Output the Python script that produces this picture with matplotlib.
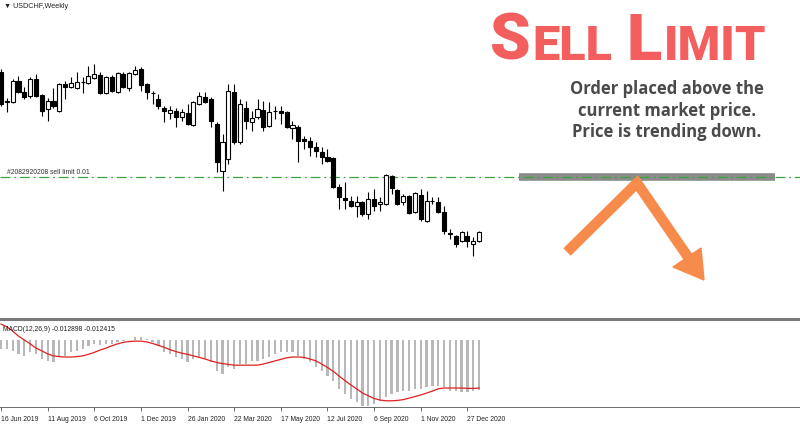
import matplotlib
matplotlib.use('Agg')

import matplotlib.pyplot as plt
from matplotlib.lines import Line2D
from matplotlib.patches import Polygon
import pandas as pd


# weekly USDCHF candles, starting 16 Jun 2019
start_date = "2019-06-16"

opens = [1.0007, 0.9801, 0.9801, 0.9946, 0.9870, 0.9843, 0.9959, 0.9849, 0.9753, 0.9808,
         0.9740, 0.9925, 0.9904, 0.9898, 0.9939, 0.9932, 0.9966, 0.9987, 0.9863, 0.9973,
         0.9870, 0.9994, 0.9898, 0.9994, 1.0028, 0.9925, 0.9863, 0.9822, 0.9760, 0.9726,
         0.9740, 0.9698, 0.9726, 0.9643, 0.9788, 0.9836, 0.9822, 0.9650, 0.9327, 0.9410,
         0.9870, 0.9527, 0.9760, 0.9664, 0.9698, 0.9746, 0.9637, 0.9740, 0.9740, 0.9733,
         0.9623, 0.9630, 0.9547, 0.9533, 0.9492, 0.9458, 0.9424, 0.9417, 0.9217, 0.9142,
         0.9121, 0.9087, 0.9114, 0.9032, 0.9135, 0.9101, 0.9101, 0.9293, 0.9197, 0.9114,
         0.9156, 0.9046, 0.9162, 0.8984, 0.9121, 0.9114, 0.9046, 0.8901, 0.8881, 0.8846,
         0.8881, 0.8826, 0.8846]
highs = [1.0028, 0.9829, 0.9959, 0.9980, 0.9904, 0.9973, 0.9994, 0.9856, 0.9829, 0.9898,
         0.9932, 0.9946, 0.9973, 1.0007, 0.9973, 1.0049, 1.0062, 1.0007, 0.9980, 0.9987,
         1.0007, 1.0007, 1.0007, 1.0049, 1.0042, 0.9932, 0.9877, 0.9856, 0.9774, 0.9774,
         0.9760, 0.9753, 0.9788, 0.9808, 0.9870, 0.9870, 0.9836, 0.9664, 0.9582, 0.9925,
         0.9925, 0.9822, 0.9808, 0.9740, 0.9822, 0.9808, 0.9801, 0.9774, 0.9774, 0.9740,
         0.9671, 0.9643, 0.9568, 0.9561, 0.9527, 0.9492, 0.9478, 0.9424, 0.9238, 0.9252,
         0.9156, 0.9156, 0.9121, 0.9183, 0.9204, 0.9149, 0.9307, 0.9300, 0.9204, 0.9169,
         0.9162, 0.9183, 0.9204, 0.9190, 0.9149, 0.9149, 0.9087, 0.8929, 0.8888, 0.8915,
         0.8915, 0.8874, 0.8915]
lows = [0.9774, 0.9733, 0.9795, 0.9863, 0.9822, 0.9829, 0.9836, 0.9705, 0.9671, 0.9760,
        0.9733, 0.9822, 0.9898, 0.9891, 0.9863, 0.9925, 0.9959, 0.9856, 0.9856, 0.9870,
        0.9863, 0.9898, 0.9877, 0.9987, 0.9877, 0.9822, 0.9788, 0.9753, 0.9664, 0.9685,
        0.9630, 0.9671, 0.9643, 0.9637, 0.9781, 0.9795, 0.9630, 0.9320, 0.9190, 0.9375,
        0.9513, 0.9513, 0.9616, 0.9602, 0.9685, 0.9602, 0.9630, 0.9685, 0.9650, 0.9623,
        0.9547, 0.9389, 0.9478, 0.9430, 0.9424, 0.9375, 0.9389, 0.9211, 0.9066, 0.9066,
        0.9080, 0.9011, 0.9018, 0.8998, 0.9053, 0.9053, 0.9094, 0.9169, 0.9094, 0.9094,
        0.9032, 0.9039, 0.8984, 0.8977, 0.9101, 0.9039, 0.8895, 0.8860, 0.8805, 0.8840,
        0.8805, 0.8743, 0.8840]
closes = [0.9788, 0.9808, 0.9946, 0.9870, 0.9836, 0.9959, 0.9843, 0.9740, 0.9808, 0.9774,
          0.9925, 0.9904, 0.9932, 0.9939, 0.9942, 0.9980, 0.9994, 0.9863, 0.9973, 0.9877,
          1.0001, 0.9904, 1.0001, 1.0021, 0.9918, 0.9870, 0.9860, 0.9774, 0.9740, 0.9746,
          0.9698, 0.9733, 0.9650, 0.9801, 0.9843, 0.9801, 0.9671, 0.9389, 0.9527, 0.9877,
          0.9527, 0.9788, 0.9671, 0.9691, 0.9753, 0.9630, 0.9733, 0.9737, 0.9726, 0.9630,
          0.9643, 0.9533, 0.9533, 0.9492, 0.9465, 0.9424, 0.9396, 0.9217, 0.9149, 0.9128,
          0.9087, 0.9114, 0.9032, 0.9135, 0.9087, 0.9114, 0.9300, 0.9211, 0.9101, 0.9156,
          0.9039, 0.9176, 0.8998, 0.9121, 0.9118, 0.9046, 0.8915, 0.8895, 0.8826, 0.8908,
          0.8846, 0.8846, 0.8908]

# MACD(12,26,9): main (histogram) and signal line
macd_main = [-0.0023, -0.0023, -0.0028, -0.0036, -0.0041, -0.0031, -0.0036, -0.0049, -0.0054, -0.0057,
             -0.0044, -0.0041, -0.0031, -0.0028, -0.0023, -0.0015, -0.0010, -0.0013, -0.0010, -0.0010,
             -0.0005, -0.0003, -0.0001, 0.0008, 0.0008, 0.0003, -0.0005, -0.0015, -0.0031, -0.0036,
             -0.0044, -0.0049, -0.0057, -0.0049, -0.0044, -0.0049, -0.0057, -0.0080, -0.0088, -0.0070,
             -0.0075, -0.0062, -0.0062, -0.0054, -0.0054, -0.0049, -0.0044, -0.0036, -0.0031, -0.0031,
             -0.0031, -0.0041, -0.0049, -0.0057, -0.0070, -0.0080, -0.0093, -0.0106, -0.0126, -0.0139,
             -0.0152, -0.0160, -0.0170, -0.0170, -0.0165, -0.0157, -0.0147, -0.0139, -0.0134, -0.0132,
             -0.0132, -0.0126, -0.0126, -0.0121, -0.0119, -0.0119, -0.0121, -0.0132, -0.0132, -0.0134,
             -0.0134, -0.0132, -0.0129]
macd_signal = [0.0041, 0.0034, 0.0023, 0.0010, 0.0000, -0.0010, -0.0021, -0.0028, -0.0036, -0.0041,
               -0.0043, -0.0044, -0.0044, -0.0043, -0.0041, -0.0037, -0.0032, -0.0026, -0.0021, -0.0015,
               -0.0010, -0.0006, -0.0004, -0.0003, -0.0003, -0.0005, -0.0009, -0.0014, -0.0019, -0.0025,
               -0.0030, -0.0034, -0.0037, -0.0041, -0.0045, -0.0049, -0.0054, -0.0058, -0.0061, -0.0063,
               -0.0065, -0.0065, -0.0065, -0.0065, -0.0065, -0.0062, -0.0058, -0.0054, -0.0050, -0.0046,
               -0.0044, -0.0044, -0.0045, -0.0049, -0.0054, -0.0062, -0.0071, -0.0081, -0.0093, -0.0105,
               -0.0116, -0.0126, -0.0137, -0.0144, -0.0151, -0.0155, -0.0157, -0.0157, -0.0156, -0.0154,
               -0.0150, -0.0146, -0.0142, -0.0137, -0.0132, -0.0126, -0.0124, -0.0124, -0.0124, -0.0124,
               -0.0125, -0.0125, -0.0124]

sell_limit = 0.9286
order_label = "#2082920208 sell limit 0.01"
macd_label = "MACD(12,26,9) -0.012898 -0.012415"
symbol_label = "\u25bc USDCHF,Weekly"

dates = pd.date_range(start_date, periods=len(opens), freq="7D")
idx = list(range(len(opens)))

W, H = 800, 427
fig = plt.figure(figsize=(W / 100, H / 100), dpi=100)
fig.patch.set_facecolor("white")

ax = fig.add_axes([0, 109 / H, 1, 318 / H])
ax2 = fig.add_axes([0, 19 / H, 1, 86 / H], sharex=ax)

# --- price pane ---
ax.vlines(idx, lows, highs, color="black", lw=0.8, zorder=2)
body_bottom = [min(o, c) for o, c in zip(opens, closes)]
body_height = [abs(c - o) for o, c in zip(opens, closes)]
body_color = ["white" if c >= o else "black" for o, c in zip(opens, closes)]
ax.bar(idx, body_height, bottom=body_bottom, width=0.7, color=body_color,
       edgecolor="black", linewidth=0.8, zorder=3)

ax.axhline(sell_limit, color="#3aa53a", lw=0.9, ls=(0, (8, 3, 1.5, 3)), zorder=1)
ax.axhline(sell_limit, xmin=0.649, xmax=0.969, color="#8c8c8c", lw=5.5,
           solid_capstyle="butt", zorder=0.5)
ax.text(1.0, sell_limit + 0.0012, order_label, fontsize=4.9, color="#333333",
        family="Liberation Sans", ha="left", va="bottom")
ax.text(0.005, 0.992, symbol_label, transform=ax.transAxes, fontsize=5.2,
        family=["Liberation Sans", "DejaVu Sans"], color="#222222", ha="left", va="top")

ax.set_xlim(-0.17, 137.05)
ax.set_ylim(0.8324, 1.0509)
ax.axis("off")

# separator between the panes
fig.add_artist(Line2D([0, 1], [1 - 320 / H, 1 - 320 / H], color="#7a7a7a", lw=2.2))

# --- MACD pane ---
ax2.bar(idx, macd_main, width=0.38, color="#b8b8b8", zorder=2)
ax2.plot(idx, macd_signal, color="#e02020", lw=0.9, zorder=3)
ax2.text(0.004, 0.95, macd_label, transform=ax2.transAxes, fontsize=4.9,
         family="Liberation Sans", color="#222222", ha="left", va="top")
ax2.set_ylim(-0.0173, 0.0049)
for s in ["top", "left", "right"]:
    ax2.spines[s].set_visible(False)
ax2.spines["bottom"].set_color("#555555")
ax2.spines["bottom"].set_linewidth(0.6)
ax2.set_yticks([])
ticks = idx[::8]
ax2.set_xticks(ticks)
ax2.set_xticklabels([f"{d.day} {d:%b %Y}" for d in dates[::8]], fontsize=4.9,
                    family="Liberation Sans", color="#222222", ha="left")
ax2.tick_params(axis="x", direction="out", length=3, width=0.6, pad=2.5, color="#555555")
ax2.set_xlim(-0.17, 137.05)

# --- annotation: title and description ---
fig.canvas.draw()
r = fig.canvas.get_renderer()
red = "#f25f5e"
x = 490
for piece, size in [("S", 47), ("ELL", 35), ("L", 47), ("IMIT", 35)]:
    t = fig.text(x / W, 1 - 60 / H, piece, fontsize=size, color=red,
                 family="Roboto", fontweight="black", ha="left", va="baseline")
    bb = t.get_window_extent(r)
    x = bb.x1 + (14 if piece == "ELL" else 2)

desc = "Order placed above the\ncurrent market price.\nPrice is trending down."
fig.text(667 / W, 1 - 80 / H, desc, fontsize=12, color="#4a4a4a",
         family="Open Sans", fontweight="bold", ha="center", va="top",
         linespacing=1.25, multialignment="center")

# --- orange arrow ---
orange = "#f68b4c"
def fp(px, py):
    return (px / W, 1 - py / H)

shaft = [fp(567, 253), fp(637, 184), fp(688, 258)]
fig.add_artist(Line2D([p[0] for p in shaft], [p[1] for p in shaft], color=orange,
                      lw=7.5, solid_joinstyle="miter", solid_capstyle="butt"))
fig.add_artist(Polygon([fp(673, 268), fp(701, 249), fp(704, 281)], closed=True,
                       facecolor=orange, edgecolor=orange, lw=1,
                       transform=fig.transFigure))

fig.savefig("out.png", dpi=100)
